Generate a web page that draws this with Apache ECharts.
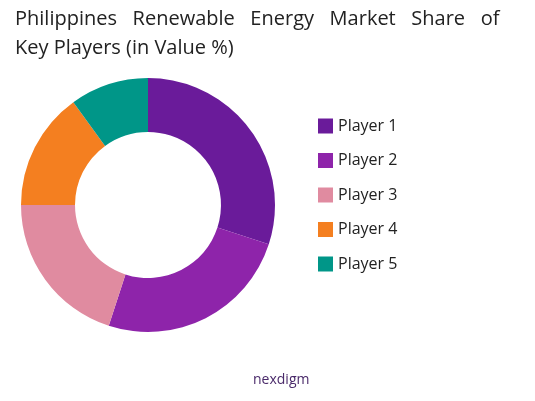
<!DOCTYPE html><html><head><meta charset="utf-8"><script src="https://cdn.jsdelivr.net/npm/echarts@6/dist/echarts.min.js"></script></head><body style="margin:0"><div id="c" style="width:535px;height:401px"></div><script>
const categories=['Player 1','Player 2','Player 3','Player 4','Player 5'];
const values=[30,25,20,15,10];
const colors=['#6a1b9a','#8e24aa','#e08ba0','#f47f20','#009688'];
const ch=echarts.init(document.getElementById('c'));
ch.setOption({
title:[{text:'Philippines   Renewable   Energy   Market   Share   of\nKey Players (in Value %)',left:10,top:0,textStyle:{fontFamily:'Open Sans',fontWeight:'normal',fontSize:20,color:'#222',lineHeight:29}},
{text:'nexdigm',left:248,top:368,textStyle:{fontFamily:'Open Sans',fontSize:14,color:'#4a2a6a',fontWeight:'normal'}}],
legend:{orient:'vertical',left:313,top:113,itemGap:18.5,itemWidth:15,itemHeight:15,icon:'rect',textStyle:{fontFamily:'Open Sans',fontSize:16,color:'#222'},data:categories},
series:[{type:'pie',center:[148,205],radius:[73,127],startAngle:90,label:{show:false},labelLine:{show:false},
data:categories.map((n,i)=>({name:n,value:values[i],itemStyle:{color:colors[i]}}))}]
});
</script></body></html>
